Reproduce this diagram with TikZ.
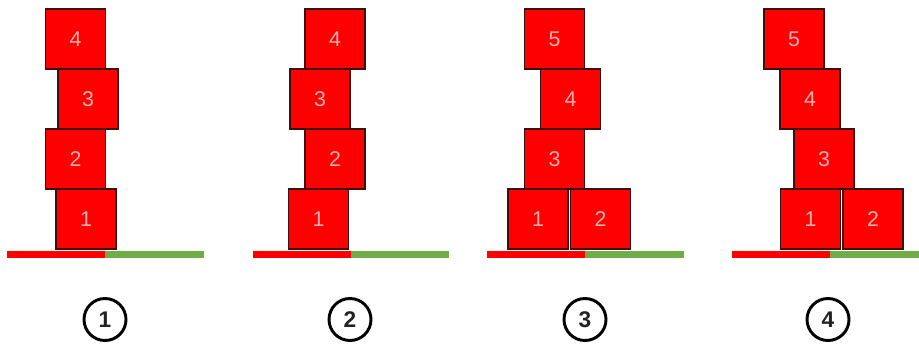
\documentclass[tikz,border=0pt]{standalone}
\usepackage{fontspec}
\setmainfont{Liberation Sans}
\definecolor{blockred}{HTML}{FF0000}
\definecolor{blockedge}{HTML}{3A1010}
\definecolor{labelpink}{HTML}{FFB0B0}
\definecolor{groundgreen}{HTML}{70AD47}
\definecolor{markgray}{HTML}{222222}
\tikzset{
  block/.style={rectangle, fill=blockred, draw=blockedge, line width=1.1pt,
    minimum width=45pt, minimum height=45pt, inner sep=0pt,
    text=labelpink, font=\fontsize{16}{16}\selectfont},
  stepmark/.style={circle, draw=black, line width=2.2pt, minimum size=31.5pt,
    inner sep=0pt, text=markgray, font=\bfseries\fontsize{17}{17}\selectfont},
  redground/.style={fill=blockred},
  greenground/.style={fill=groundgreen}
}
\begin{document}
\begin{tikzpicture}[x=0.75pt, y=-0.75pt]
\useasboundingbox (0,0) rectangle (919,344);

% ground strips: red half and green half
\fill[redground]   (7,251)   rectangle (105,258);
\fill[greenground] (105,251) rectangle (204,258);
\fill[redground]   (253,251) rectangle (351,258);
\fill[greenground] (351,251) rectangle (449,258);
\fill[redground]   (487,251) rectangle (585,258);
\fill[greenground] (585,251) rectangle (684,258);
\fill[redground]   (732,251) rectangle (830,258);
\fill[greenground] (830,251) rectangle (919,258);

% stack 1
\node[block] (a1) at (86,219)   {1};
\node[block] (a2) at (75.5,159) {2};
\node[block] (a3) at (88,99)    {3};
\node[block] (a4) at (75.5,39)  {4};

% stack 2
\node[block] (b1) at (318.5,219) {1};
\node[block] (b2) at (335,159)   {2};
\node[block] (b3) at (320,99)    {3};
\node[block] (b4) at (335,39)    {4};

% stack 3
\node[block] (c1) at (538,219)   {1};
\node[block] (c2) at (600.5,219) {2};
\node[block] (c3) at (554.5,159) {3};
\node[block] (c4) at (570.5,99)  {4};
\node[block] (c5) at (554.5,39)  {5};

% stack 4
\node[block] (d1) at (810.5,219) {1};
\node[block] (d2) at (873,219)   {2};
\node[block] (d3) at (824,159)   {3};
\node[block] (d4) at (810,99)    {4};
\node[block] (d5) at (794,39)    {5};

% step markers
\node[stepmark] (m1) at (105,319.5) {1};
\node[stepmark] (m2) at (350,319.5) {2};
\node[stepmark] (m3) at (585,319.5) {3};
\node[stepmark] (m4) at (828,319.5) {4};
\end{tikzpicture}
\end{document}
